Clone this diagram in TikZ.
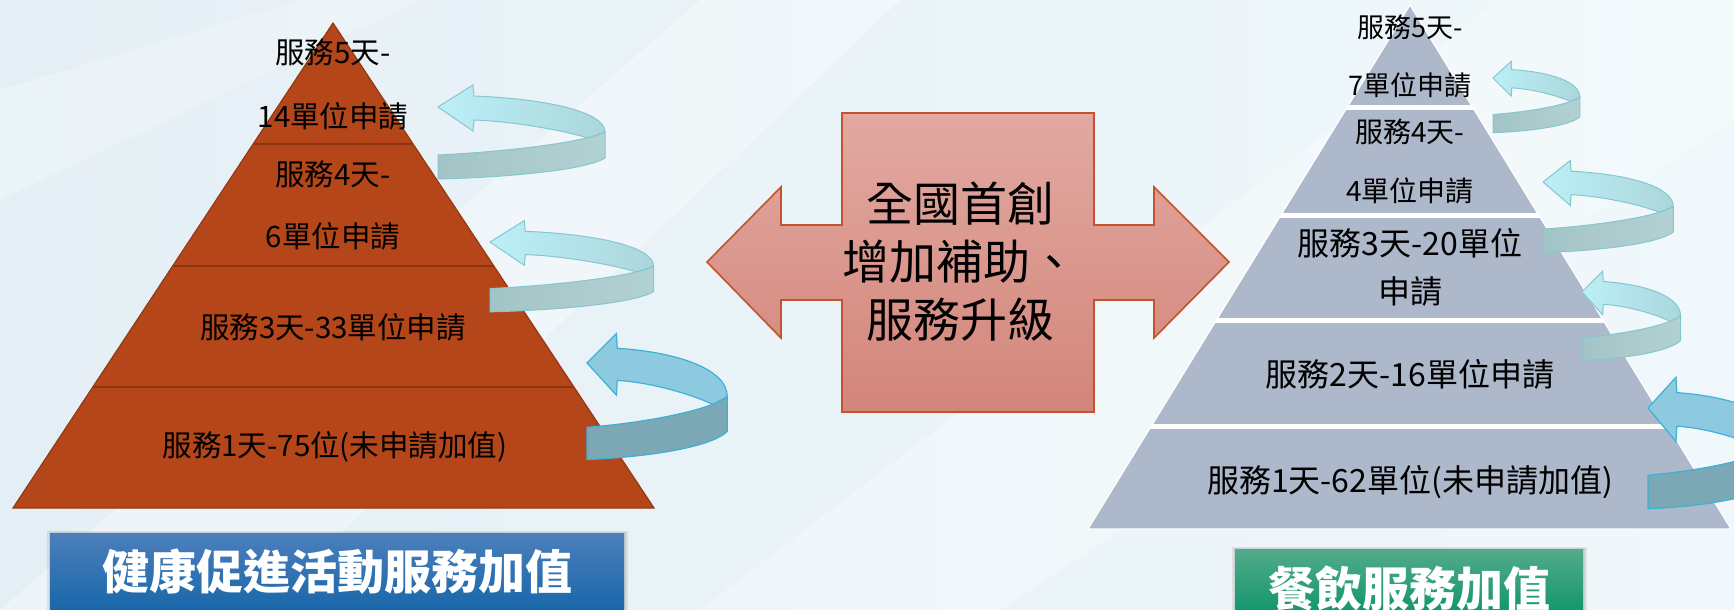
\documentclass[tikz,border=0pt]{standalone}
\usepackage{fontspec}
\setmainfont{Noto Sans CJK TC}

\definecolor{bgleft}{HTML}{E4EFF5}
\definecolor{bgright}{HTML}{F0F8FB}
\definecolor{brick}{HTML}{B4461A}
\definecolor{brickline}{HTML}{8E3510}
\definecolor{slate}{HTML}{ADB8CB}
\definecolor{salmontop}{HTML}{E2A9A1}
\definecolor{salmonbot}{HTML}{D3857A}
\definecolor{salmonline}{HTML}{C2532E}
\definecolor{bluetop}{HTML}{4C7FBB}
\definecolor{bluebot}{HTML}{1766AA}
\definecolor{greentop}{HTML}{52AB8A}
\definecolor{greenbot}{HTML}{13966D}
\definecolor{ringlight}{HTML}{BCEFF8}
\definecolor{ringmid}{HTML}{ABD7DB}
\definecolor{ringfront}{HTML}{A3C4C6}
\definecolor{ringfrontr}{HTML}{B2D1D2}
\definecolor{ringedge}{HTML}{86C7CF}
\definecolor{ringdark}{HTML}{8DCADF}
\definecolor{ringdarkfront}{HTML}{7CA8B5}
\definecolor{ringdarkedge}{HTML}{3DB1D6}

\tikzset{
  lefttxt/.style={font=\fontsize{14.75}{17}\selectfont},
  righttxt/.style={font=\fontsize{16}{19}\selectfont},
  toptxt/.style={font=\fontsize{13.5}{16}\selectfont},
  hubtxt/.style={font=\fontsize{23.5}{29}\selectfont, align=center},
  titletxt/.style={text=white, font=\fontsize{23.5}{28}\selectfont\bfseries},
  backpale/.style={left color=ringlight, right color=ringmid, draw=ringedge, line width=0.5pt},
  frontpale/.style={left color=ringfront, right color=ringfrontr, draw=ringedge, line width=0.5pt},
  backdeep/.style={fill=ringdark, draw=ringdarkedge, line width=0.6pt},
  frontdeep/.style={fill=ringdarkfront, draw=ringdarkedge, line width=0.6pt}
}

% #1 tip, #2 xscale, #3 yscale, #4 pale or deep
\newcommand\ringarrow[4]{%
  \begin{scope}[shift={#1}, xscale=#2, yscale=#3]
    \draw[back#4] (0,0) -- (35,-22) -- (36,-11) .. controls (110,-8) and (167,5) .. (167,25)
      -- (150,31) .. controls (120,22) and (70,14) .. (36,13) -- (35,24) -- cycle;
    \draw[front#4] (0,48) .. controls (80,44) and (150,34) .. (167,25) -- (167,51)
      .. controls (150,62) and (80,70) .. (0,72) -- cycle;
  \end{scope}}

\begin{document}
\begin{tikzpicture}[x=0.5pt, y=-0.5pt]
  \useasboundingbox (0,0) rectangle (1734,610);
  % background
  \fill[left color=bgleft, right color=bgright] (0,0) rectangle (1734,610);
  \fill[white, opacity=0.35] (0,610) -- (260,610) -- (900,0) -- (700,0) -- cycle;
  \fill[white, opacity=0.3] (700,610) -- (1000,610) -- (1734,120) -- (1734,0) -- (1500,0) -- cycle;
  \fill[white, opacity=0.25] (0,200) -- (0,90) -- (300,0) -- (420,0) -- cycle;

  % left pyramid
  \coordinate (lapex) at (333,23);
  \coordinate (lbl) at (13,508);
  \coordinate (lbr) at (654,508);
  \fill[brick] (lapex) -- (lbr) -- (lbl) -- cycle;
  \begin{scope}
    \clip (lapex) -- (lbr) -- (lbl) -- cycle;
    \foreach \y in {144,266,387}
      \draw[brickline, line width=1pt] (0,\y) -- (700,\y);
  \end{scope}
  \draw[brickline!80!brick, line width=0.6pt] (lapex) -- (lbr) -- (lbl) -- cycle;

  \node[lefttxt] (l5a) at (333,52) {服務5天-};
  \node[lefttxt] (l5b) at (333,116) {14單位申請};
  \node[lefttxt] (l4a) at (333,174) {服務4天-};
  \node[lefttxt] (l4b) at (333,236) {6單位申請};
  \node[lefttxt] (l3) at (333,327) {服務3天-33單位申請};
  \node[lefttxt] (l1) at (335,447) {服務1天-75位(未申請加值)};

  % right pyramid
  \coordinate (rapex) at (1410,5);
  \coordinate (rbl) at (1088,529);
  \coordinate (rbr) at (1731,529);
  \fill[slate] (rapex) -- (rbr) -- (rbl) -- cycle;
  \begin{scope}
    \clip (rapex) -- (rbr) -- (rbl) -- cycle;
    \foreach \y in {108,215,320,426}
      \draw[white, line width=2.5pt] (1080,\y) -- (1734,\y);
  \end{scope}
  \draw[white, line width=0.6pt] (rapex) -- (rbr) -- (rbl) -- cycle;

  \node[toptxt] (r5a) at (1410,27) {服務5天-};
  \node[toptxt] (r5b) at (1410,85) {7單位申請};
  \node[toptxt, font=\fontsize{14}{17}\selectfont] (r4a) at (1410,132) {服務4天-};
  \node[toptxt, font=\fontsize{14}{17}\selectfont] (r4b) at (1410,191) {4單位申請};
  \node[righttxt] (r3a) at (1410,243) {服務3天-20單位};
  \node[righttxt] (r3b) at (1410,292) {申請};
  \node[righttxt] (r2) at (1410,374) {服務2天-16單位申請};
  \node[righttxt] (r1) at (1410,482) {服務1天-62單位(未申請加值)};

  % center double arrow
  \draw[salmonline, line width=0.8pt, top color=salmontop, bottom color=salmonbot]
    (842,113) -- (1094,113) -- (1094,225) -- (1154,225) -- (1154,187) -- (1229,262)
    -- (1154,338) -- (1154,300) -- (1094,300) -- (1094,412) -- (842,412) -- (842,300)
    -- (781,300) -- (781,338) -- (707,262) -- (781,187) -- (781,225) -- (842,225) -- cycle;
  \node[hubtxt] (hub) at (960,262) {全國首創\\增加補助、\\服務升級};

  % ring arrows
  \ringarrow{(438,107)}{1}{1}{pale}
  \ringarrow{(490,242)}{0.98}{0.97}{pale}
  \ringarrow{(587,363)}{0.84}{1.34}{deep}
  \ringarrow{(1493,78)}{0.52}{0.76}{pale}
  \ringarrow{(1543,182)}{0.78}{0.98}{pale}
  \ringarrow{(1582,292)}{0.59}{0.95}{pale}
  \ringarrow{(1648,408)}{0.8}{1.4}{deep}

  % titles
  \fill[black, opacity=0.08] (47,531) rectangle (628,615);
  \fill[black, opacity=0.08] (49,532) rectangle (626,615);
  \fill[top color=bluetop, bottom color=bluebot] (50,533) rectangle (624,612);
  \node[titletxt] (ltitle) at (337,572) {健康促進活動服務加值};
  \fill[black, opacity=0.08] (1232,547) rectangle (1587,615);
  \fill[black, opacity=0.08] (1234,548) rectangle (1585,615);
  \fill[top color=greentop, bottom color=greenbot] (1235,549) rectangle (1583,612);
  \node[titletxt] (rtitle) at (1409,589) {餐飲服務加值};
\end{tikzpicture}
\end{document}
